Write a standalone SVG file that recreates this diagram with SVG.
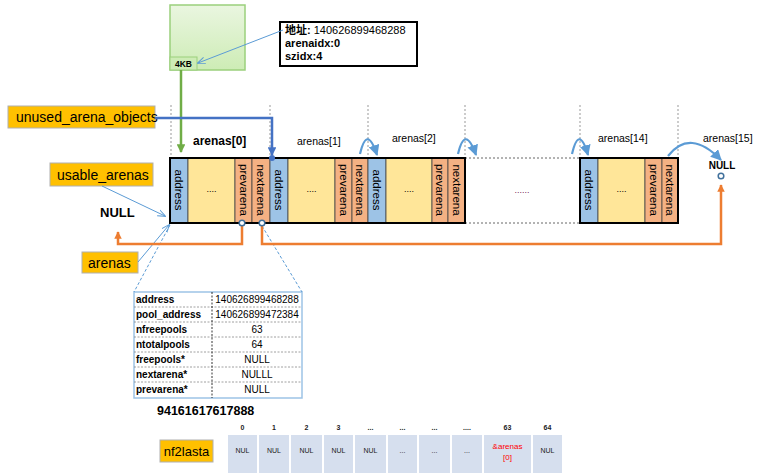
<svg xmlns="http://www.w3.org/2000/svg" width="764" height="475" viewBox="0 0 764 475">
<defs>
<style>
.t{font-family:"Liberation Sans",Arial,sans-serif;fill:#000}
.b{font-weight:bold}
.lbl{fill:#ffc000;stroke:#b0b0b0;stroke-width:1}
.addr{fill:#9dc3e6;stroke:#444;stroke-width:0.8}
.dots{fill:#ffe699;stroke:#444;stroke-width:0.8}
.ptr{fill:#f4b183;stroke:#444;stroke-width:0.8}
.vt{font-family:"Liberation Sans",Arial,sans-serif;font-size:11.5px;fill:#000;text-anchor:middle}
.guide{stroke:#999;stroke-width:1;stroke-dasharray:2,2;fill:none}
.curve{stroke:#5b9bd5;stroke-width:2.2;fill:none;marker-end:url(#ab)}
.thin{stroke:#5b9bd5;stroke-width:1;fill:none}
.dash{stroke:#5b9bd5;stroke-width:1;fill:none;stroke-dasharray:3,2}
.org{stroke:#ed7d31;stroke-width:2.5;fill:none}
.cell{fill:#d6dfee}
.ct{font-family:"Liberation Sans",Arial,sans-serif;font-size:7px;text-anchor:middle;fill:#222}
.red{fill:#ff0000;font-size:8px}
.ht{font-family:"Liberation Sans",Arial,sans-serif;font-size:7px;font-weight:bold;text-anchor:middle;fill:#222}
.tr{stroke:#888;stroke-width:0.8;stroke-dasharray:2,1.5}
.tk{font-family:"Liberation Sans",Arial,sans-serif;font-size:10px;fill:#000}
</style>
<marker id="ab" viewBox="0 0 10 10" refX="9" refY="5" markerWidth="5" markerHeight="5" orient="auto"><path d="M0,0 L10,5 L0,10 z" fill="#5b9bd5"/></marker>
<marker id="at" viewBox="0 0 10 10" refX="9" refY="5" markerWidth="8" markerHeight="8" orient="auto"><path d="M0,1 L10,5 L0,9" fill="none" stroke="#5b9bd5" stroke-width="1.2"/></marker>
<marker id="ag" viewBox="0 0 10 10" refX="9" refY="5" markerWidth="3.5" markerHeight="3.5" orient="auto"><path d="M0,0 L10,5 L0,10 z" fill="#70ad47"/></marker>
<marker id="adb" viewBox="0 0 10 10" refX="9" refY="5" markerWidth="3.5" markerHeight="3.5" orient="auto"><path d="M0,0 L10,5 L0,10 z" fill="#4472c4"/></marker>
<marker id="ao" viewBox="0 0 10 10" refX="9" refY="5" markerWidth="3" markerHeight="3" orient="auto"><path d="M0,0 L10,5 L0,10 z" fill="#ed7d31"/></marker>
<linearGradient id="gg" x1="0" y1="0" x2="0" y2="1"><stop offset="0" stop-color="#eaf6e0"/><stop offset="1" stop-color="#cdecb5"/></linearGradient>
</defs>
<rect width="764" height="475" fill="#fff"/>

<g id="guides">
<line class="guide" x1="171" y1="105" x2="171" y2="158"/>
<line class="guide" x1="270" y1="105" x2="270" y2="158"/>
<line class="guide" x1="368" y1="105" x2="368" y2="158"/>
<line class="guide" x1="465" y1="105" x2="465" y2="158"/>
<line class="guide" x1="580" y1="105" x2="580" y2="158"/>
<line class="guide" x1="678" y1="105" x2="678" y2="158"/>
</g>

<g id="page">
<rect x="170" y="5" width="75" height="65" fill="url(#gg)" stroke="#9bd07c" stroke-width="1.5"/>
<rect x="170" y="57" width="27" height="13" fill="#cdecb5" stroke="#9bd07c" stroke-width="1"/>
<text class="t b" x="183.5" y="67" font-size="8.5" text-anchor="middle">4KB</text>
</g>

<g id="info">
<rect x="280" y="22" width="137" height="44" fill="#fff" stroke="#000" stroke-width="2"/>
<text class="t" x="285" y="34" font-size="11"><tspan font-weight="bold" font-family="'Liberation Sans','Noto Sans CJK SC',sans-serif">地址:</tspan> 140626899468288</text>
<text class="t b" x="285" y="47" font-size="11">arenaidx:0</text>
<text class="t b" x="285" y="60" font-size="11">szidx:4</text>
</g>

<g id="unused"><rect class="lbl" x="8" y="106" width="147" height="22"/><text class="t" x="16" y="122" font-size="14">unused_arena_objects</text></g>
<g id="usable"><rect class="lbl" x="50" y="163" width="103" height="23"/><text class="t" x="57" y="180" font-size="14">usable_arenas</text></g>
<g id="arenaslbl"><rect class="lbl" x="82" y="252" width="56" height="21"/><text class="t" x="88" y="268" font-size="14">arenas</text></g>
<text class="t" x="100" y="217" font-size="13" font-weight="bold">NULL</text>

<text class="t b" x="193" y="145" font-size="12">arenas[0]</text>
<text class="t" x="297" y="145" font-size="10.5">arenas[1]</text>
<text class="t" x="392" y="142" font-size="10.5">arenas[2]</text>
<text class="t" x="598" y="142" font-size="10.5">arenas[14]</text>
<text class="t" x="703" y="142" font-size="10.5">arenas[15]</text>
<text class="t b" x="722" y="169" font-size="10" text-anchor="middle">NULL</text>

<g id="arena0">
<rect class="addr" x="170" y="158" width="18" height="65"/><rect class="dots" x="188" y="158" width="47" height="65"/><rect class="ptr" x="235" y="158" width="17" height="65"/><rect class="ptr" x="252" y="158" width="18" height="65"/>
<text class="vt" transform="translate(179,190) rotate(90)" dy="4">address</text>
<text class="t" x="211.5" y="192" font-size="9" text-anchor="middle">....</text>
<text class="vt" transform="translate(243.5,190) rotate(90)" dy="4">prevarena</text>
<text class="vt" transform="translate(261,190) rotate(90)" dy="4">nextarena</text>
</g>
<g id="arena1">
<rect class="addr" x="270" y="158" width="18" height="65"/><rect class="dots" x="288" y="158" width="47" height="65"/><rect class="ptr" x="335" y="158" width="17" height="65"/><rect class="ptr" x="352" y="158" width="16" height="65"/>
<text class="vt" transform="translate(279,190) rotate(90)" dy="4">address</text>
<text class="t" x="311.5" y="192" font-size="9" text-anchor="middle">....</text>
<text class="vt" transform="translate(343.5,190) rotate(90)" dy="4">prevarena</text>
<text class="vt" transform="translate(360,190) rotate(90)" dy="4">nextarena</text>
</g>
<g id="arena2">
<rect class="addr" x="368" y="158" width="18" height="65"/><rect class="dots" x="386" y="158" width="46" height="65"/><rect class="ptr" x="432" y="158" width="16" height="65"/><rect class="ptr" x="448" y="158" width="17" height="65"/>
<text class="vt" transform="translate(377,190) rotate(90)" dy="4">address</text>
<text class="t" x="409" y="192" font-size="9" text-anchor="middle">....</text>
<text class="vt" transform="translate(440,190) rotate(90)" dy="4">prevarena</text>
<text class="vt" transform="translate(456.5,190) rotate(90)" dy="4">nextarena</text>
</g>
<g id="gap">
<line x1="465" y1="158" x2="580" y2="158" stroke="#666" stroke-width="1" stroke-dasharray="2,2"/>
<line x1="465" y1="223" x2="580" y2="223" stroke="#666" stroke-width="1" stroke-dasharray="2,2"/>
<text x="522" y="193" font-family="Liberation Sans,sans-serif" font-size="9" fill="#7a1f5a" text-anchor="middle">......</text>
</g>
<g id="arena14">
<rect class="addr" x="580" y="158" width="18" height="65"/><rect class="dots" x="598" y="158" width="47" height="65"/><rect class="ptr" x="645" y="158" width="17" height="65"/><rect class="ptr" x="662" y="158" width="16" height="65"/>
<text class="vt" transform="translate(589,190) rotate(90)" dy="4">address</text>
<text class="t" x="621.5" y="192" font-size="9" text-anchor="middle">....</text>
<text class="vt" transform="translate(653.5,190) rotate(90)" dy="4">prevarena</text>
<text class="vt" transform="translate(670,190) rotate(90)" dy="4">nextarena</text>
</g>
<g id="borders" fill="none" stroke="#000" stroke-width="2">
<rect x="170" y="158" width="295" height="65"/>
<rect x="580" y="158" width="98" height="65"/>
</g>

<g id="table">
<rect x="134" y="292" width="168" height="106" fill="#fff" stroke="#9dc3e6" stroke-width="1.5"/>
<line class="tr" x1="134" y1="307" x2="302" y2="307"/>
<line class="tr" x1="134" y1="322" x2="302" y2="322"/>
<line class="tr" x1="134" y1="337" x2="302" y2="337"/>
<line class="tr" x1="134" y1="352" x2="302" y2="352"/>
<line class="tr" x1="134" y1="367" x2="302" y2="367"/>
<line class="tr" x1="134" y1="382" x2="302" y2="382"/>
<line x1="212" y1="292" x2="212" y2="398" stroke="#000" stroke-width="0.8" stroke-dasharray="2,1.5"/>
<g class="tk" font-weight="bold">
<text x="136" y="303">address</text>
<text x="136" y="318">pool_address</text>
<text x="136" y="333">nfreepools</text>
<text x="136" y="348">ntotalpools</text>
<text x="136" y="363">freepools*</text>
<text x="136" y="378">nextarena*</text>
<text x="136" y="393">prevarena*</text>
</g>
<g class="tk" text-anchor="middle">
<text x="257" y="303">140626899468288</text>
<text x="257" y="318">140626899472384</text>
<text x="257" y="333">63</text>
<text x="257" y="348">64</text>
<text x="257" y="363">NULL</text>
<text x="257" y="378">NULLL</text>
<text x="257" y="393">NULL</text>
</g>
</g>
<text class="t b" x="157" y="415" font-size="12.5">94161617617888</text>

<g id="nf2lasta">
<rect class="lbl" x="160" y="440" width="53" height="22"/>
<text class="t" x="186.5" y="456" font-size="13" text-anchor="middle">nf2lasta</text>
<g>
<rect class="cell" x="228" y="435" width="29" height="38"/>
<rect class="cell" x="259" y="435" width="30" height="38"/>
<rect class="cell" x="291" y="435" width="31" height="38"/>
<rect class="cell" x="324" y="435" width="29" height="38"/>
<rect class="cell" x="355" y="435" width="31" height="38"/>
<rect class="cell" x="388" y="435" width="29" height="38"/>
<rect class="cell" x="419" y="435" width="31" height="38"/>
<rect class="cell" x="452" y="435" width="30" height="38"/>
<rect class="cell" x="484" y="435" width="47" height="38"/>
<rect class="cell" x="533" y="435" width="29" height="38"/>
</g>
<text class="ht" x="242.5" y="430">0</text>
<text class="ht" x="274" y="430">1</text>
<text class="ht" x="306.5" y="430">2</text>
<text class="ht" x="338.5" y="430">3</text>
<text class="ht" x="370.5" y="430">...</text>
<text class="ht" x="402.5" y="430">...</text>
<text class="ht" x="434.5" y="430">...</text>
<text class="ht" x="467" y="430">....</text>
<text class="ht" x="507.5" y="430">63</text>
<text class="ht" x="547.5" y="430">64</text>
<text class="ct" x="242.5" y="453">NUL</text>
<text class="ct" x="274" y="453">NUL</text>
<text class="ct" x="306.5" y="453">NUL</text>
<text class="ct" x="338.5" y="453">NUL</text>
<text class="ct" x="370.5" y="453">NUL</text>
<text class="ct" x="402.5" y="453">...</text>
<text class="ct" x="434.5" y="453">...</text>
<text class="ct" x="467" y="453">...</text>
<text class="ct red" x="507.5" y="449">&amp;arenas</text>
<text class="ct red" x="507.5" y="460">[0]</text>
<text class="ct" x="547.5" y="453">NUL</text>
</g>

<g id="connectors">
<line x1="283" y1="30" x2="198" y2="63" class="thin" marker-end="url(#at)"/>
<line x1="181" y1="70" x2="181" y2="152" stroke="#70ad47" stroke-width="2.5" marker-end="url(#ag)"/>
<polyline points="155,118 272,118 272,155" fill="none" stroke="#4472c4" stroke-width="2.5" marker-end="url(#adb)"/>
<circle cx="272" cy="158" r="3" fill="#4472c4"/>
<line x1="102" y1="186" x2="165" y2="216" class="thin" marker-end="url(#at)"/>
<line x1="138" y1="262" x2="169" y2="225" class="thin" marker-end="url(#at)"/>
<line x1="170" y1="225" x2="134" y2="292" class="dash"/>
<line x1="262" y1="226" x2="302" y2="292" class="dash"/>
<polyline class="org" points="242,223 242,244 118,244 118,232" marker-end="url(#ao)"/>
<polyline class="org" points="262,223 262,244 721,244 721,185" marker-end="url(#ao)"/>
<circle cx="242" cy="223" r="2.8" fill="#fff" stroke="#41719c" stroke-width="1.5"/>
<circle cx="262" cy="223" r="2.8" fill="#fff" stroke="#41719c" stroke-width="1.5"/>
<circle cx="721" cy="176" r="2.8" fill="#fff" stroke="#41719c" stroke-width="1.5"/>
<path class="curve" d="M360,154 Q367,124 377,155"/>
<path class="curve" d="M458,154 Q465,124 476,155"/>
<path class="curve" d="M572,154 Q579,124 588,155"/>
<path class="curve" d="M668,156 Q690,128 721,160"/>
</g>
</svg>
